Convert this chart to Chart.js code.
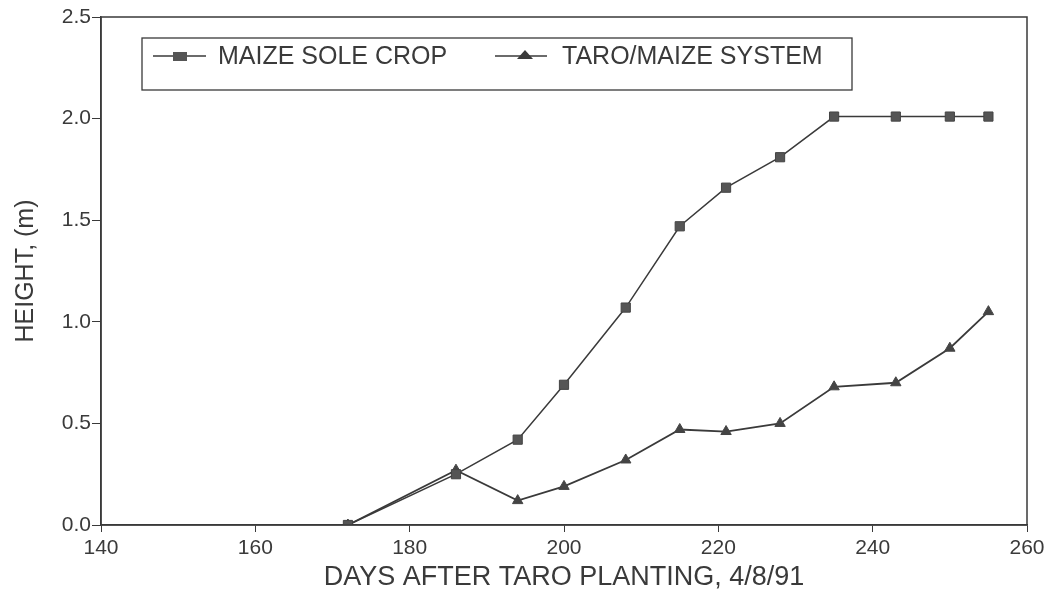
<!DOCTYPE html>
<html lang="en">
<head>
    <meta charset="UTF-8">
    <script src="https://cdn.jsdelivr.net/npm/chart.js"></script>
    <title>Maize height</title>
    <style>
        body { margin: 0; background: #fff; }
        #wrap { width: 1054px; height: 598px; }
    </style>
</head>
<body>
<div id="wrap"><canvas id="myChart" width="1054" height="598"></canvas></div>
<script>
const days = [172, 186, 194, 200, 208, 215, 221, 228, 235, 243, 250, 255];
const maizeSole = [0.00, 0.25, 0.42, 0.69, 1.07, 1.47, 1.66, 1.81, 2.01, 2.01, 2.01, 2.01];
const taroMaize = [0.00, 0.27, 0.12, 0.19, 0.32, 0.47, 0.46, 0.50, 0.68, 0.70, 0.87, 1.05];
const seriesNames = ['MAIZE SOLE CROP', 'TARO/MAIZE SYSTEM'];

const ink = '#3a3a3a';
const font = 'Liberation Sans, Arial, sans-serif';

function pts(vals) {
    return days.map((d, i) => ({ x: d, y: vals[i] }));
}

// frame round the plot + the boxed legend inside it
const framePlugin = {
    id: 'frame',
    afterDraw(chart) {
        const { ctx, chartArea: a } = chart;
        ctx.save();
        ctx.strokeStyle = ink;
        ctx.lineWidth = 1.5;
        ctx.strokeRect(a.left, a.top, a.right - a.left, a.bottom - a.top);

        // legend box
        const bx = a.left + 41, by = a.top + 21, bw = 710, bh = 52;
        ctx.lineWidth = 1.3;
        ctx.strokeRect(bx, by, bw, bh);
        const cy = by + 18;
        ctx.font = '25px ' + font;
        ctx.fillStyle = ink;
        ctx.textBaseline = 'middle';

        // square entry
        ctx.lineWidth = 1.6;
        ctx.beginPath();
        ctx.moveTo(bx + 11, cy); ctx.lineTo(bx + 64, cy);
        ctx.stroke();
        ctx.fillStyle = '#555';
        ctx.fillRect(bx + 31, cy - 4, 14, 9);
        ctx.fillStyle = ink;
        ctx.fillText(seriesNames[0], bx + 76, cy + 1);

        // triangle entry
        ctx.beginPath();
        ctx.moveTo(bx + 353, cy); ctx.lineTo(bx + 405, cy);
        ctx.stroke();
        ctx.beginPath();
        ctx.moveTo(bx + 383, cy - 6); ctx.lineTo(bx + 391, cy + 3); ctx.lineTo(bx + 375, cy + 3);
        ctx.closePath();
        ctx.fill();
        ctx.fillText(seriesNames[1], bx + 420, cy + 1);
        ctx.restore();
    }
};

const ctx = document.getElementById('myChart').getContext('2d');
new Chart(ctx, {
    type: 'scatter',
    data: {
        datasets: [{
            label: seriesNames[0],
            data: pts(maizeSole),
            showLine: true,
            borderColor: ink,
            borderWidth: 1.5,
            pointStyle: 'rect',
            pointRadius: 6.5,
            pointBackgroundColor: '#555',
            pointBorderColor: '#444',
            pointBorderWidth: 1
        }, {
            label: seriesNames[1],
            data: pts(taroMaize),
            showLine: true,
            borderColor: ink,
            borderWidth: 1.8,
            pointStyle: 'triangle',
            pointRadius: 6,
            pointBackgroundColor: '#444',
            pointBorderColor: '#444',
            pointBorderWidth: 1
        }]
    },
    options: {
        responsive: false,
        animation: false,
        layout: { padding: { top: 17, right: 27, left: 0, bottom: 0 } },
        plugins: { legend: { display: false }, tooltip: { enabled: false } },
        scales: {
            x: {
                type: 'linear',
                min: 140, max: 260,
                afterFit(s) { s.height = 73; },
                ticks: { stepSize: 20, color: ink, font: { family: font, size: 21 }, padding: 4 },
                grid: { drawOnChartArea: false, drawTicks: true, tickLength: 7, color: ink },
                border: { color: ink, width: 1.5 },
                title: { display: true, text: 'DAYS AFTER TARO PLANTING, 4/8/91', color: ink,
                         font: { family: font, size: 27 }, padding: { top: 0, bottom: 4 } }
            },
            y: {
                min: 0, max: 2.5,
                afterFit(s) { s.width = 101; },
                ticks: { stepSize: 0.5, color: ink, font: { family: font, size: 21 }, padding: 1,
                         callback: v => v.toFixed(1) },
                grid: { drawOnChartArea: false, drawTicks: true, tickLength: 9, color: ink },
                border: { color: ink, width: 1.5 },
                title: { display: true, text: 'HEIGHT, (m)', color: ink,
                         font: { family: font, size: 25 }, padding: { top: 11, bottom: 0 } }
            }
        }
    },
    plugins: [framePlugin]
});
</script>
</body>
</html>
